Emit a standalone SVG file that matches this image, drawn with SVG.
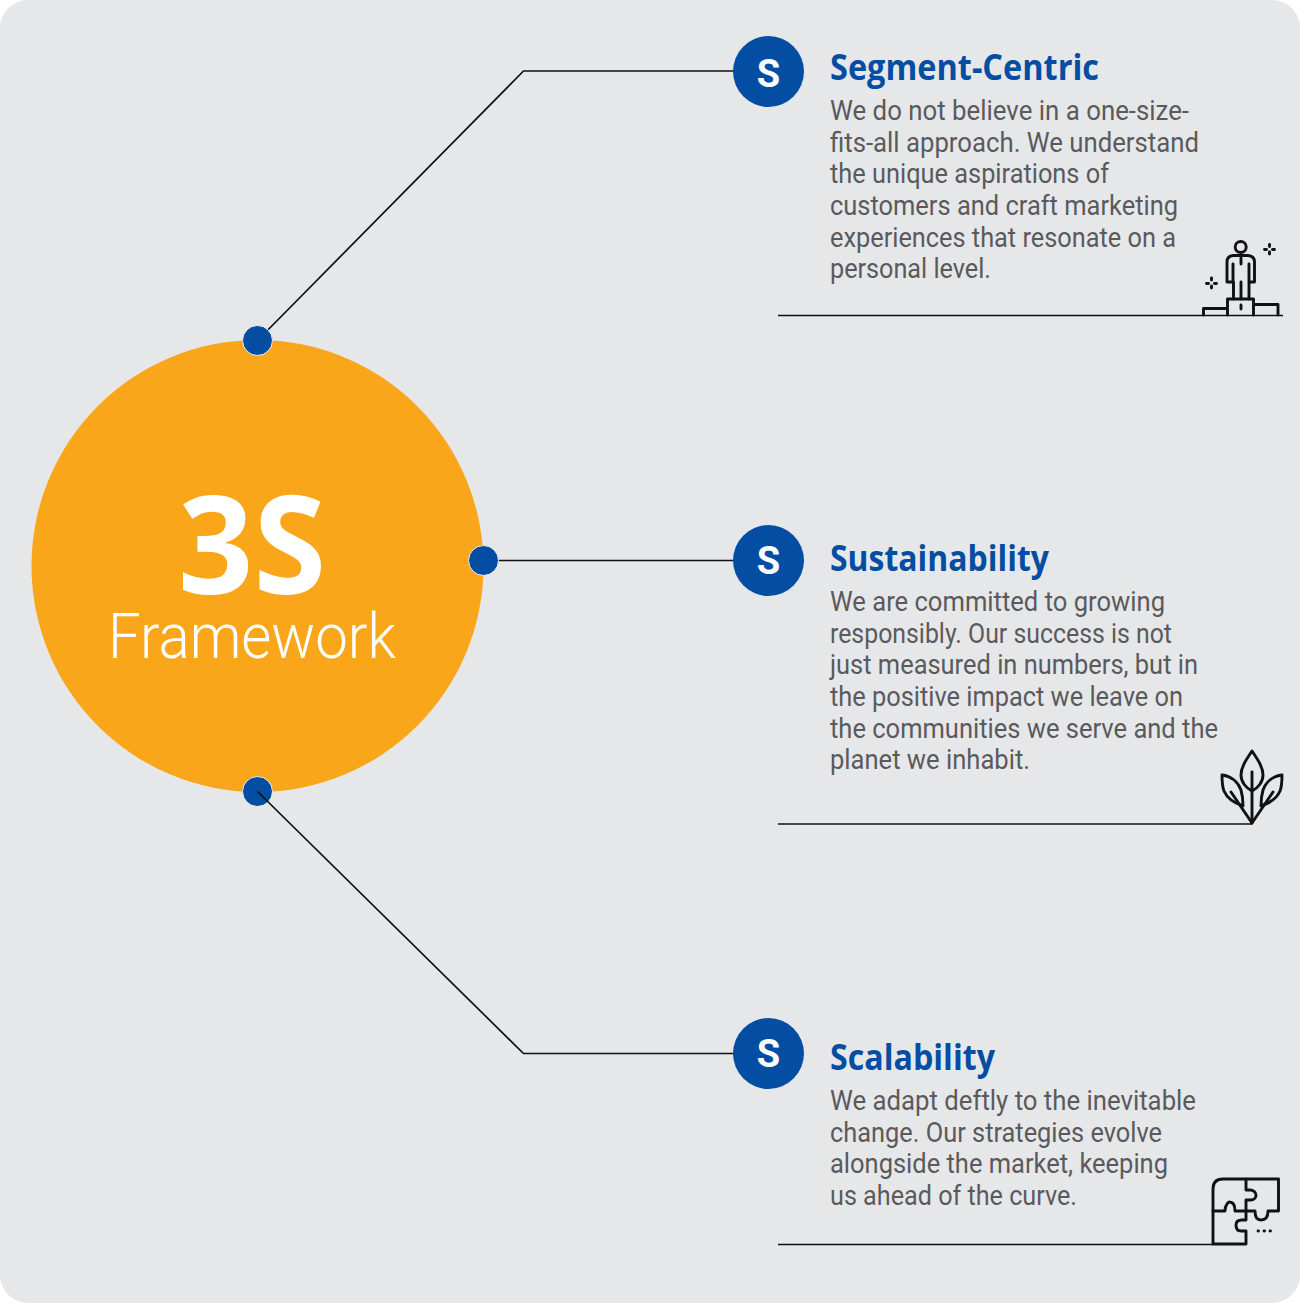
<svg xmlns="http://www.w3.org/2000/svg" width="1300" height="1303" viewBox="0 0 1300 1303">
<style>
.bg{fill:#e6e7e9}
.ln{fill:none;stroke:#111;stroke-width:1.7}
.ic{fill:none;stroke:#111;stroke-width:2.9;stroke-linejoin:round;stroke-linecap:round}
.dot{fill:#034ea2;stroke:#f1f1f1;stroke-width:1}
.badge{fill:#034ea2}
.s{font:700 38px Roboto,"Liberation Sans",sans-serif;fill:#fff;text-anchor:middle}
.t{font:700 36px "Open Sans","Liberation Sans",sans-serif;fill:#034ea2}
.b{font:400 27px Roboto,"Open Sans","Liberation Sans",sans-serif;fill:#5a5a5c}
</style>
<rect class="bg" x="0" y="0" width="1300" height="1303" rx="28"/>
<g id="connectors">
<path class="ln" d="M257.500 340.500L523.500 71H740"/>
<path class="ln" d="M483.500 560.500H740"/>
<path class="ln" d="M778 315.500H1283"/>
<path class="ln" d="M778 824H1252"/>
<path class="ln" d="M778 1244.500H1213"/>
</g>
<g id="hub">
<circle cx="257.500" cy="566" r="226" fill="#faa61a"/>
<text x="252" y="594" font-family="'Open Sans','Liberation Sans',sans-serif" font-weight="700" font-size="137" fill="#fff" text-anchor="middle" textLength="148" lengthAdjust="spacingAndGlyphs">3S</text>
<text x="252" y="658" font-family="Roboto,'Open Sans',sans-serif" font-weight="300" font-size="63" fill="#fff" text-anchor="middle" textLength="288" lengthAdjust="spacingAndGlyphs">Framework</text>
<circle class="dot" cx="257.500" cy="340.500" r="15"/>
<circle class="dot" cx="483.500" cy="560.500" r="15"/>
<circle class="dot" cx="257.500" cy="791.500" r="15"/>
<path class="ln" d="M257.500 791.500L523.500 1053.500H740"/>
</g>
<g id="node-segment">
<circle class="badge" cx="768.500" cy="71.500" r="35.500"/>
<text class="s" x="768.500" y="86.500">S</text>
<text class="t" x="830" y="80" textLength="269" lengthAdjust="spacingAndGlyphs">Segment-Centric</text>
<text class="b" x="830" y="119.500" textLength="359" lengthAdjust="spacingAndGlyphs">We do not believe in a one-size-</text>
<text class="b" x="830" y="151.500" textLength="369" lengthAdjust="spacingAndGlyphs">fits-all approach. We understand</text>
<text class="b" x="830" y="183" textLength="279" lengthAdjust="spacingAndGlyphs">the unique aspirations of</text>
<text class="b" x="830" y="214.500" textLength="348" lengthAdjust="spacingAndGlyphs">customers and craft marketing</text>
<text class="b" x="830" y="246.500" textLength="346" lengthAdjust="spacingAndGlyphs">experiences that resonate on a</text>
<text class="b" x="830" y="278" textLength="161" lengthAdjust="spacingAndGlyphs">personal level.</text>
<g class="ic">
<circle cx="1240.700" cy="247" r="5.500"/>
<path d="M1233.500 299V282H1227V262Q1227 256 1233 255.500H1248Q1254.500 256 1254.500 262V282H1249V299M1233 264V282M1249 264V282M1241 282V299M1241 258V264"/>
<path d="M1227.500 315V299H1253.500V315M1203.500 315V308.500H1227.500M1253.500 304.500H1278V315M1241 305V309"/>
<path d="M1269.500 244.500v2M1269.500 252v2M1264.500 249.500h2M1272.500 249.500h2M1211.500 278v2M1211.500 286v2M1206.500 283.500h2M1214.500 283.500h2"/>
</g>
</g>
<g id="node-sustainability">
<circle class="badge" cx="768.500" cy="560.500" r="35.500"/>
<text class="s" x="768.500" y="574">S</text>
<text class="t" x="830" y="571" textLength="219" lengthAdjust="spacingAndGlyphs">Sustainability</text>
<text class="b" x="830" y="610.500" textLength="335" lengthAdjust="spacingAndGlyphs">We are committed to growing</text>
<text class="b" x="830" y="642.500" textLength="342" lengthAdjust="spacingAndGlyphs">responsibly. Our success is not</text>
<text class="b" x="830" y="674" textLength="368" lengthAdjust="spacingAndGlyphs">just measured in numbers, but in</text>
<text class="b" x="830" y="705.500" textLength="353" lengthAdjust="spacingAndGlyphs">the positive impact we leave on</text>
<text class="b" x="830" y="737.500" textLength="388" lengthAdjust="spacingAndGlyphs">the communities we serve and the</text>
<text class="b" x="830" y="769" textLength="200" lengthAdjust="spacingAndGlyphs">planet we inhabit.</text>
<g class="ic">
<path d="M1252 751C1246 760 1241 767 1241 775C1241 782 1246 788 1252 791C1258 788 1263 782 1263 775C1263 767 1258 760 1252 751Z"/>
<path d="M1252 772V823"/>
<path d="M1222 775C1231 776 1238 782 1241 790C1243 797 1243 803 1243 806C1234 803 1227 798 1224 791C1222 786 1222 780 1222 775Z"/>
<path d="M1282 775C1273 776 1266 782 1263 790C1261 797 1261 803 1261 806C1270 803 1277 798 1280 791C1282 786 1282 780 1282 775Z"/>
<path d="M1231 792L1252 823L1273 792"/>
</g>
</g>
<g id="node-scalability">
<circle class="badge" cx="768.500" cy="1053.500" r="35.500"/>
<text class="s" x="768.500" y="1067">S</text>
<text class="t" x="830" y="1070" textLength="165" lengthAdjust="spacingAndGlyphs">Scalability</text>
<text class="b" x="830" y="1109.500" textLength="366" lengthAdjust="spacingAndGlyphs">We adapt deftly to the inevitable</text>
<text class="b" x="830" y="1141.500" textLength="332" lengthAdjust="spacingAndGlyphs">change. Our strategies evolve</text>
<text class="b" x="830" y="1173" textLength="338" lengthAdjust="spacingAndGlyphs">alongside the market, keeping</text>
<text class="b" x="830" y="1204.500" textLength="247" lengthAdjust="spacingAndGlyphs">us ahead of the curve.</text>
<g class="ic">
<path d="M1245 1179H1223Q1213 1179 1213 1189V1211H1225C1225 1204 1229 1202 1229.500 1202C1234 1202 1235 1206 1235 1211H1246"/>
<path d="M1246 1179H1278.500V1211H1268C1268 1219 1264 1220 1261 1220C1257 1220 1255 1217 1255 1211H1246V1200H1251C1255 1200 1256 1197 1256 1195C1256 1192 1253 1190 1250 1190H1246Z"/>
<path d="M1213 1211V1244H1246V1231H1241C1237 1231 1236 1228 1236 1225C1236 1222 1238 1220 1242 1220H1246V1211"/>
<path d="M1258 1231h.5M1264 1231h.5M1270 1231h.5" stroke-width="2.800"/>
</g>
</g>
</svg>
